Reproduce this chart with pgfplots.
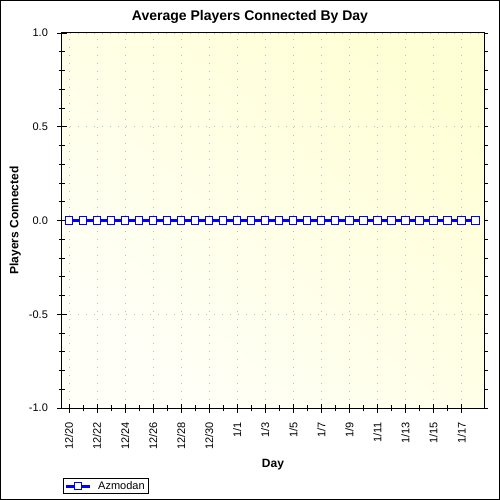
\documentclass[border=0pt]{standalone}
\usepackage{fontspec}
\setmainfont{Liberation Sans}
\usepackage{pgfplots}
\pgfplotsset{compat=1.18}

\definecolor{bgyel}{RGB}{255,255,214}
\definecolor{bgpale}{RGB}{255,255,248}
\definecolor{dotgrid}{RGB}{190,190,190}

\begin{document}
\begin{tikzpicture}
\useasboundingbox (-46.5pt,-69pt) rectangle (328.5pt,306pt);
\fill[white] (-46.5pt,-69pt) rectangle (328.5pt,306pt);
\draw[black, line width=0.75pt] (-46.125pt,-68.625pt) rectangle (328.125pt,305.625pt);

% top and right ticks
\begin{axis}[
  at={(0,0)}, anchor=south west,
  scale only axis, width=316.5pt, height=281.25pt,
  xmin=-0.5, xmax=29.6, ymin=-1, ymax=1,
  axis line style={draw=none},
  xtick pos=right, ytick pos=right,
  xtick={0,...,29}, xticklabels={},
  ytick={-1,-0.5,0,0.5,1}, yticklabels={},
  minor y tick num=4,
  tick align=outside,
  major tick length=3pt, minor tick length=3pt,
  tick style={black, line width=0.6pt},
  x tick style={yshift=-3pt},
]
\end{axis}

\begin{axis}[
  at={(0,0)}, anchor=south west,
  scale only axis, width=316.5pt, height=281.25pt,
  xmin=-0.5, xmax=29.6, ymin=-1, ymax=1,
  axis background/.style={top color=bgyel, bottom color=bgpale, shading angle=-40},
  axis line style={black, line width=0.75pt},
  xtick pos=left, ytick pos=left,
  xtick={0,2,...,28},
  xticklabels={12/20,12/22,12/24,12/26,12/28,12/30,1/1,1/3,1/5,1/7,1/9,1/11,1/13,1/15,1/17},
  minor x tick num=1,
  ytick={-1,-0.5,0,0.5,1},
  minor y tick num=4,
  /pgf/number format/fixed,
  /pgf/number format/fixed zerofill,
  /pgf/number format/precision=1,
  /pgf/number format/assume math mode=true,
  tick align=center,
  major tick length=6.75pt, minor tick length=4.5pt,
  tick style={black, line width=0.6pt},
  ticklabel style={font=\fontsize{8.25}{9}\selectfont, black},
  xticklabel style={rotate=90, anchor=east, inner sep=0pt},
  yticklabel style={inner sep=0pt},
  xticklabel shift=7pt,
  yticklabel shift=7pt,
  xmajorgrids, ymajorgrids,
  grid style={dotgrid, line width=0.6pt, dash pattern=on 0.6pt off 5.4pt},
  every axis title shift=0pt,
  title={Average Players Connected By Day},
  title style={at={(axis description cs:0.4455,1.0427)}, anchor=center, yshift=0pt, font=\fontsize{10.5}{12}\selectfont\bfseries},
  xlabel={Day},
  xlabel style={at={(axis description cs:0.5,-0.152)}, anchor=center, yshift=0pt, font=\fontsize{9}{10}\selectfont\bfseries},
  ylabel={Players Connected},
  ylabel style={at={(axis description cs:-0.111,0.5)}, anchor=center, xshift=0pt, font=\fontsize{9}{10}\selectfont\bfseries},
  legend style={at={(axis description cs:0.002,-0.187)}, anchor=north west,
    draw=black, line width=0.6pt, inner xsep=1pt, inner ysep=0pt,
    font=\fontsize{8.25}{9}\selectfont, row sep=0pt,
    cells={anchor=west, inner ysep=1pt}},
  legend cell align=left,
  legend image code/.code={
    \draw[#1, mark=none] (0pt,0pt) -- (18pt,0pt);
    \draw[#1, only marks] plot coordinates {(9pt,0pt)};
  },
  legend columns=1,
]
\addplot[blue, line width=2.25pt, mark=square*,
  mark size=2.7pt,
  mark options={fill=white, draw=blue, line width=0.75pt, rounded corners=1.6pt}]
coordinates {
(0,0) (1,0) (2,0) (3,0) (4,0) (5,0) (6,0) (7,0) (8,0) (9,0)
(10,0) (11,0) (12,0) (13,0) (14,0) (15,0) (16,0) (17,0) (18,0) (19,0)
(20,0) (21,0) (22,0) (23,0) (24,0) (25,0) (26,0) (27,0) (28,0) (29,0)
};
\addlegendentry{\hspace{3pt}Azmodan\hspace{8pt}}
\end{axis}
\end{tikzpicture}
\end{document}
